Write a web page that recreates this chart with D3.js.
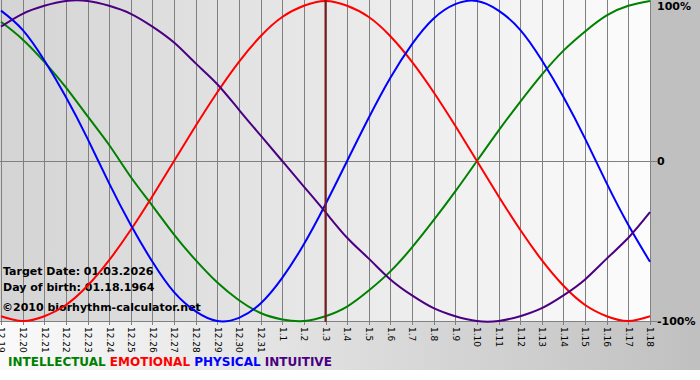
<!DOCTYPE html>
<html>
  <head>
    <meta charset="utf-8">
    <title>Biorhythm</title>
    <script src="https://d3js.org/d3.v7.min.js"></script>
    <style>
      body { margin: 0; background: #fff; font-family: "DejaVu Sans", Verdana, sans-serif; }
      svg { display: block; }
    </style>
  </head>
  <body>
    <div id="chart"></div>
    <script>
      // day labels, 12.19 .. 1.18
      var days = ["12.19","12.20","12.21","12.22","12.23","12.24","12.25","12.26","12.27","12.28","12.29","12.30","12.31",
        "1.1","1.2","1.3","1.4","1.5","1.6","1.7","1.8","1.9","1.10","1.11","1.12","1.13","1.14","1.15","1.16","1.17","1.18"];

      // values, -1 .. 1
      var intellectual = [0.87,0.76,0.62,0.46,0.28,0.10,-0.10,-0.28,-0.46,-0.62,-0.76,-0.87,-0.95,-0.99,-1.00,-0.97,
        -0.91,-0.81,-0.69,-0.54,-0.37,-0.19,0,0.19,0.37,0.54,0.69,0.81,0.91,0.97,1.00];
      var emotional = [-0.97,-1.00,-0.97,-0.90,-0.78,-0.62,-0.43,-0.22,0,0.22,0.43,0.62,0.78,0.90,0.97,1.00,
        0.97,0.90,0.78,0.62,0.43,0.22,0,-0.22,-0.43,-0.62,-0.78,-0.90,-0.97,-1.00,-0.97];
      var physical = [0.94,0.82,0.63,0.40,0.14,-0.14,-0.40,-0.63,-0.82,-0.94,-1.00,-0.98,-0.89,-0.73,-0.52,-0.27,
        0,0.27,0.52,0.73,0.89,0.98,1.00,0.94,0.82,0.63,0.40,0.14,-0.14,-0.40,-0.63];
      var intuitive = [0.84,0.92,0.97,1.00,1.00,0.97,0.92,0.84,0.74,0.61,0.48,0.32,0.16,0,-0.16,-0.32,
        -0.48,-0.61,-0.74,-0.84,-0.92,-0.97,-1.00,-1.00,-0.97,-0.92,-0.84,-0.74,-0.61,-0.48,-0.32];

      var seriesNames = ["INTELLECTUAL","EMOTIONAL","PHYSICAL","INTUITIVE"];
      var seriesColors = ["#008000","#ff0000","#0000ff","#4b0082"];
      var yTickLabels = ["100%","0","-100%"];
      var yTickValues = [1,0,-1];
      var targetDay = "1.3";
      var infoLines = ["Target Date: 01.03.2026","Day of birth: 01.18.1964"];
      var credit = "\u00a92010 biorhythm-calculator.net";

      var width = 700, height = 380;
      var plotW = 651, plotH = 322;

      var svg = d3.select("#chart").append("svg")
        .attr("width", width)
        .attr("height", height);

      var defs = svg.append("defs");
      var g1 = defs.append("linearGradient").attr("id", "plotBg");
      g1.append("stop").attr("offset", "0%").attr("stop-color", "#d4d4d4");
      g1.append("stop").attr("offset", "100%").attr("stop-color", "#fcfcfc");
      var g2 = defs.append("linearGradient").attr("id", "bottomBg");
      g2.append("stop").attr("offset", "0%").attr("stop-color", "#fafafa");
      g2.append("stop").attr("offset", "100%").attr("stop-color", "#c0c0c0");

      // backgrounds
      svg.append("rect").attr("x", 0).attr("y", plotH).attr("width", width).attr("height", 48)
        .attr("fill", "url(#bottomBg)");
      svg.append("rect").attr("x", plotW).attr("y", 0).attr("width", width - plotW).attr("height", plotH)
        .attr("fill", "#c0c0c0");
      svg.append("rect").attr("x", 0).attr("y", 0).attr("width", plotW).attr("height", plotH)
        .attr("fill", "url(#plotBg)");

      var x = d3.scalePoint().domain(days).range([1, 650]);
      var y = d3.scaleLinear().domain([-1, 1]).range([321, 1]);

      // vertical grid + tick labels
      var xAxis = d3.axisBottom(x).tickSize(325).tickPadding(4);
      var gx = svg.append("g").attr("class", "x-axis").call(xAxis);
      gx.select(".domain").remove();
      gx.selectAll(".tick line").attr("stroke", "#808080").attr("shape-rendering", "crispEdges");
      gx.selectAll(".tick text")
        .attr("transform", "rotate(90)")
        .attr("x", 327).attr("y", 0).attr("dy", "0.35em")
        .attr("text-anchor", "start")
        .attr("fill", "#000")
        .style("font-size", "9px")
        .style("font-family", "DejaVu Sans, Verdana, sans-serif");

      // right labels
      var yAxis = d3.axisRight(y).tickValues(yTickValues)
        .tickFormat(function(d, i) { return yTickLabels[i]; })
        .tickSize(0).tickPadding(6);
      var gy = svg.append("g").attr("transform", "translate(" + plotW + ",0)").call(yAxis);
      gy.select(".domain").remove();
      gy.selectAll(".tick text")
        .attr("fill", "#000")
        .style("font-size", "11px").style("font-weight", "bold")
        .style("font-family", "DejaVu Sans, Verdana, sans-serif");
      gy.selectAll(".tick").filter(function(d) { return d === 1; }).select("text").attr("dy", "0.75em");

      // horizontal lines at 0 and -100%
      svg.selectAll("line.hgrid").data([0, -1]).enter().append("line")
        .attr("class", "hgrid")
        .attr("x1", 0).attr("x2", plotW + 6)
        .attr("y1", function(d) { return Math.round(y(d)) + 0.5; })
        .attr("y2", function(d) { return Math.round(y(d)) + 0.5; })
        .attr("stroke", "#808080");

      // info text
      var info = svg.append("g").style("font-family", "DejaVu Sans, Verdana, sans-serif")
        .style("font-weight", "bold").attr("fill", "#000");
      info.selectAll("text.info").data(infoLines).enter().append("text")
        .attr("x", 3).attr("y", function(d, i) { return 275 + i * 16; })
        .style("font-size", "11px").text(function(d) { return d; });
      info.append("text").attr("x", 2).attr("y", 311).style("font-size", "11px").text(credit);

      // curves
      var allSeries = [intellectual, emotional, physical, intuitive];
      var line = d3.line()
        .x(function(d, i) { return x(days[i]); })
        .y(function(d) { return y(d); })
        .curve(d3.curveNatural);

      svg.append("g").selectAll("path").data(allSeries).enter().append("path")
        .attr("d", line)
        .attr("fill", "none")
        .attr("stroke", function(d, i) { return seriesColors[i]; })
        .attr("stroke-width", 2);

      // target day line
      svg.append("line")
        .attr("x1", x(targetDay)).attr("x2", x(targetDay))
        .attr("y1", 0).attr("y2", 322)
        .attr("stroke", "#7a1c1c").attr("stroke-width", 2);

      // legend
      var legend = svg.append("text").attr("x", 8).attr("y", 366)
        .style("font-family", "DejaVu Sans, Verdana, sans-serif")
        .style("font-size", "12px").style("font-weight", "bold");
      legend.selectAll("tspan").data(seriesNames).enter().append("tspan")
        .attr("fill", function(d, i) { return seriesColors[i]; })
        .text(function(d, i) { return (i ? " " : "") + d; });
    </script>
  </body>
</html>
